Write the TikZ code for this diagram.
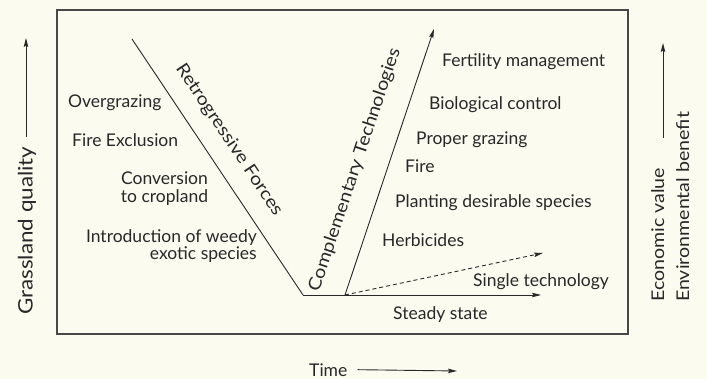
\documentclass[tikz,border=0pt]{standalone}
\usepackage{fontspec}
\setmainfont{Lato}
\newfontfamily\wideface[FakeStretch=1.13]{Lato}
\newfontfamily\axisface[FakeStretch=1.12]{Lato}
\usepackage{tikz}
\usetikzlibrary{arrows.meta,positioning,calc}
\definecolor{paper}{RGB}{252,251,240}
\definecolor{ink}{RGB}{40,40,40}

\begin{document}
\begin{tikzpicture}[x=1pt, y=-1pt,
  lbl/.style={anchor=base west, inner sep=0pt, text=ink, font=\fontsize{17.5}{17.5}\selectfont},
  slant/.style={inner sep=0pt, text=ink, font=\fontsize{17.5}{17.5}\selectfont},
  frame/.style={draw=ink!85, line width=1.1pt},
  line/.style={ink, line width=0.9pt},
  arr/.style={-{Stealth[length=9pt, width=4.5pt, inset=1.5pt]}, ink, line width=0.9pt}]
\fill[paper] (0,0) rectangle (707,379);
\draw[frame] (57,10) rectangle (628,334);
\coordinate (rtop) at (132,39);
\coordinate (vbot) at (303,295);
\coordinate (cfoot) at (345,295);
\coordinate (ctip) at (434,29);
\coordinate (stip) at (541,295);
\coordinate (dtip) at (543,253);
\node[lbl] (over) at (68,108) {Overgrazing};
\node[lbl] (fireex) at (72,147) {Fire Exclusion};
\node[slant, align=center, anchor=north] (conv) at (164.5,172) {Conversion\\to cropland};
\node[slant, align=right, anchor=north east] (intro) at (257,229) {Introduction of weedy\\exotic species};
\node[slant, rotate=-56.3, font=\fontsize{17.5}{17.5}\wideface] (retro) at (229,140) {Retrogressive Forces};
\node[slant, rotate=71.5, font=\fontsize{17.5}{17.5}\wideface] (compl) at (355,170) {Complementary Technologies};
\node[lbl] (fert) at (442,67) {Fertility management};
\node[lbl] (bio) at (429,110) {Biological control};
\node[lbl] (proper) at (416,145) {Proper grazing};
\node[lbl] (fire) at (405,173) {Fire};
\node[lbl] (plant) at (395,208) {Planting desirable species};
\node[lbl] (herb) at (382,247) {Herbicides};
\node[lbl] (single) at (473,287) {Single technology};
\node[lbl] (steady) at (393,320) {Steady state};
\node[lbl] (time) at (309,376) {Time};
\node[slant, rotate=90, anchor=west, font=\fontsize{20}{20}\axisface] (gq) at (27,315) {Grassland quality};
\node[slant, rotate=90, anchor=north west, align=left, font=\fontsize{17.5}{25}\axisface] (econ) at (651,302) {Economic value\\Environmental benefit};
\coordinate (gqbase) at (26,137);
\coordinate (gqtip) at (26,38);
\coordinate (timetip) at (457,371);
\coordinate (evbase) at (663,138);
\coordinate (evtip) at (663,43);
\draw[line] (rtop) -- (vbot);
\draw[arr] (vbot) -- (stip);
\draw[arr] (cfoot) -- (ctip);
\draw[arr, dash pattern=on 4pt off 3pt] (cfoot) -- (dtip);
\draw[arr] (gqbase) -- (gqtip);
\draw[arr] ([xshift=10pt]time.east) -- (timetip);
\draw[arr] (evbase) -- (evtip);
\end{tikzpicture}
\end{document}
